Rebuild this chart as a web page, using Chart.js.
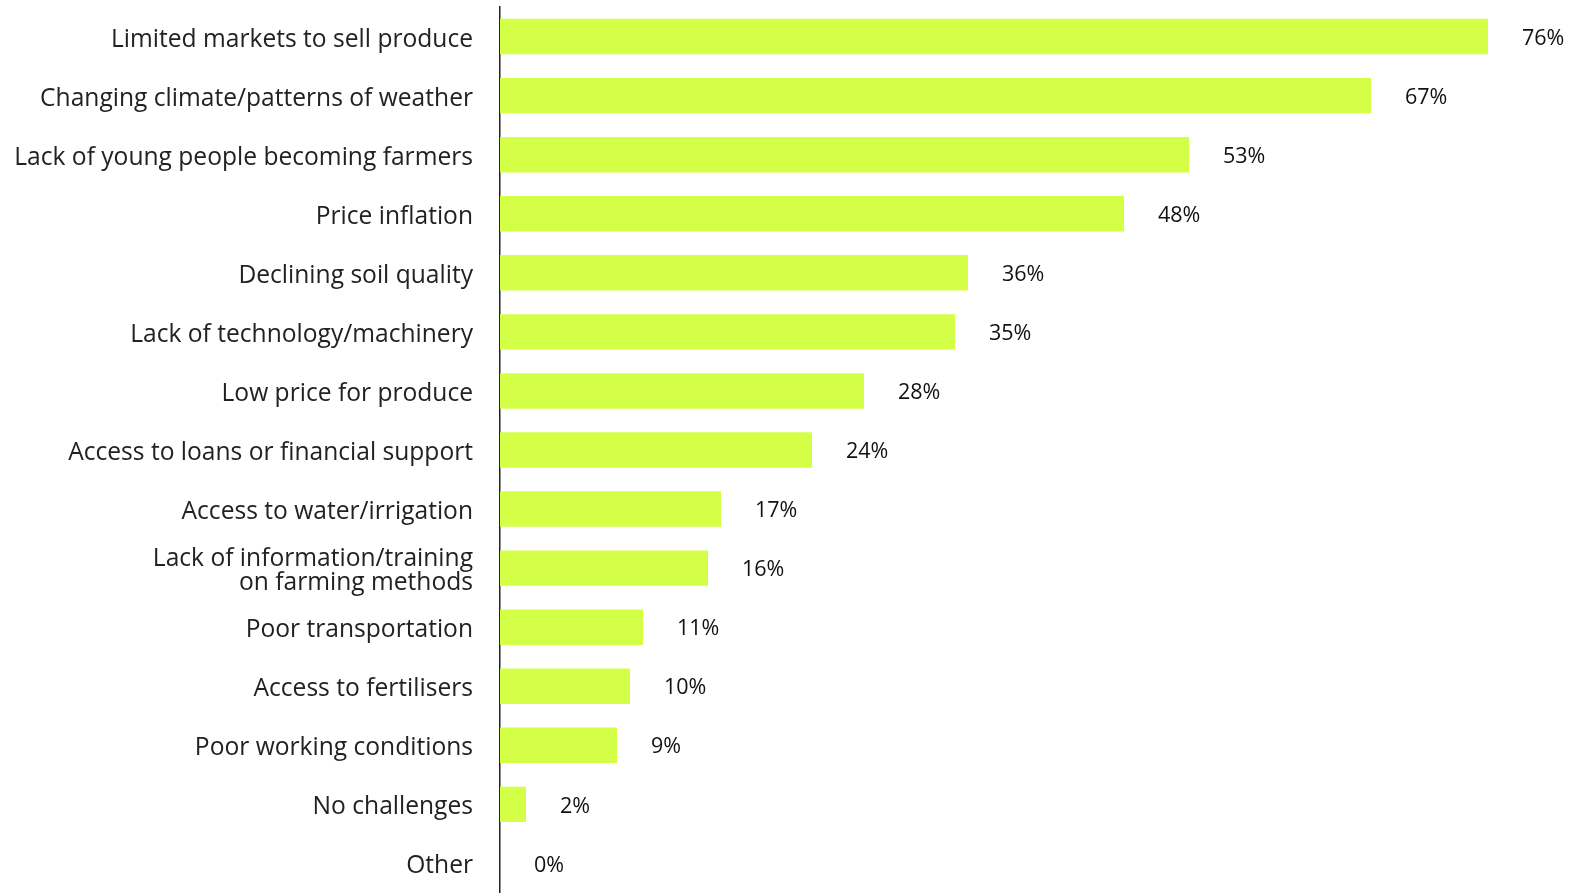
<!DOCTYPE html>
<html>
<head>
<meta charset="utf-8">
<script src="https://cdn.jsdelivr.net/npm/chart.js@4/dist/chart.umd.min.js"></script>
<style>
html,body{margin:0;padding:0;background:#fff;}
#wrap{width:1577px;height:893px;position:relative;}
</style>
</head>
<body>
<div id="wrap"><canvas id="c"></canvas></div>
<script>
const categories = [
  "Limited markets to sell produce",
  "Changing climate/patterns of weather",
  "Lack of young people becoming farmers",
  "Price inflation",
  "Declining soil quality",
  "Lack of technology/machinery",
  "Low price for produce",
  "Access to loans or financial support",
  "Access to water/irrigation",
  ["Lack of information/training", "on farming methods"],
  "Poor transportation",
  "Access to fertilisers",
  "Poor working conditions",
  "No challenges",
  "Other"
];
const values = [76, 67, 53, 48, 36, 35, 28, 24, 17, 16, 11, 10, 9, 2, 0];
const valueLabels = values.map(v => v + "%");

const FONT = "'Open Sans', 'DejaVu Sans', sans-serif";

const valueLabelPlugin = {
  id: 'valueLabels',
  afterDatasetsDraw(chart) {
    const ctx = chart.ctx;
    const meta = chart.getDatasetMeta(0);
    ctx.save();
    ctx.font = "500 21.5px " + FONT;
    ctx.fillStyle = "#111";
    ctx.textAlign = "left";
    ctx.textBaseline = "middle";
    meta.data.forEach((bar, i) => {
      ctx.fillText(valueLabels[i], bar.x + 34, bar.y + 2);
    });
    ctx.restore();
  }
};

new Chart(document.getElementById('c'), {
  type: 'bar',
  data: {
    labels: categories,
    datasets: [{
      data: values,
      backgroundColor: '#D4FF47',
      borderWidth: 0,
      categoryPercentage: 1.0,
      barPercentage: 0.6
    }]
  },
  options: {
    indexAxis: 'y',
    responsive: true,
    maintainAspectRatio: false,
    animation: false,
    layout: { padding: { top: 7, bottom: 0, left: 0, right: 11 } },
    plugins: { legend: { display: false }, tooltip: { enabled: false } },
    scales: {
      x: {
        min: 0, max: 82,
        display: false,
        grid: { display: false }
      },
      y: {
        grid: { display: false, drawTicks: false },
        border: { display: true, color: '#222', width: 1.5 },
        ticks: {
          color: '#222',
          font: { family: FONT, size: 24.6, lineHeight: 1.0 },
          padding: 27,
          labelOffset: 3,
          autoSkip: false
        },
        afterFit(scale) {
          scale.width = 500;
          scale.paddingTop = 0;
          scale.paddingBottom = 0;
        }
      }
    }
  },
  plugins: [valueLabelPlugin]
});
</script>
</body>
</html>
